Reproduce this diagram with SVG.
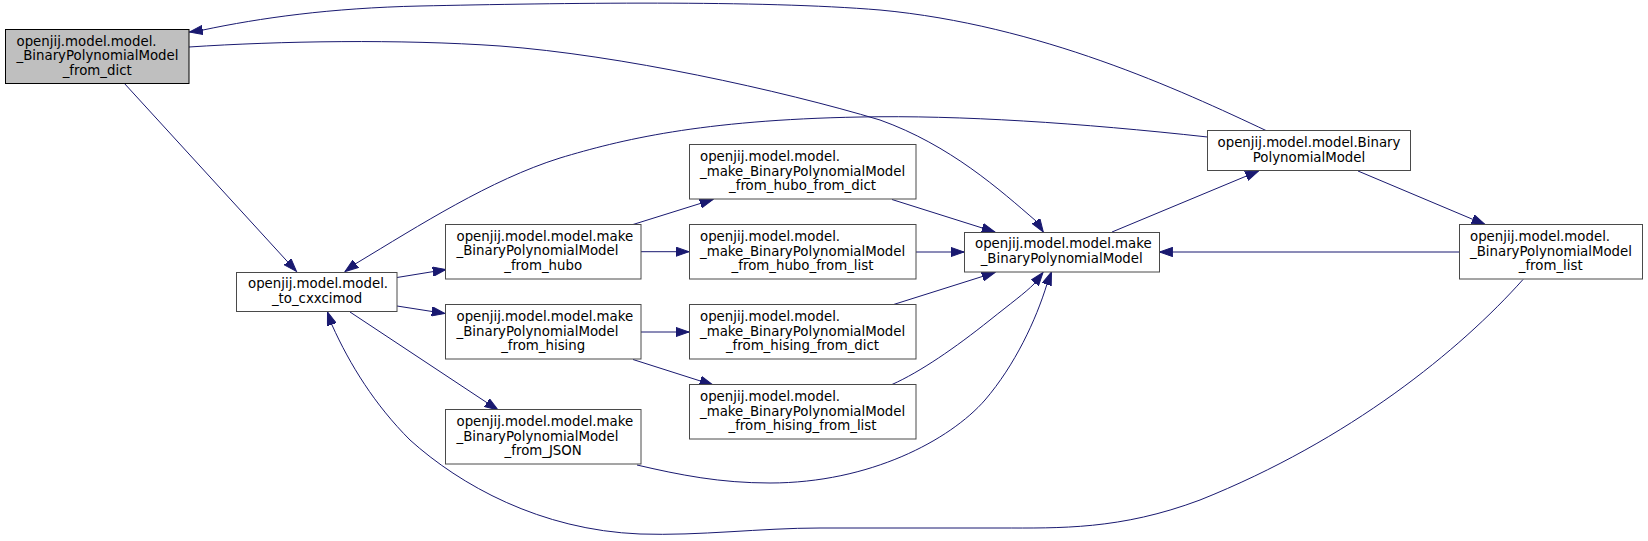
<svg xmlns="http://www.w3.org/2000/svg" width="1648" height="541" viewBox="0 0 1648 541">
<style>
.n rect{fill:#ffffff;stroke:#4a4a4a;stroke-width:1}
.n.root rect{fill:#bfbfbf;stroke:#000000}
.n text{font-family:"DejaVu Sans",sans-serif;font-size:13.33px;fill:#000000}
.s{text-anchor:start}
.m{text-anchor:middle}
.e path{fill:none;stroke:#191970;stroke-width:1;marker-end:url(#ah)}
</style>
<defs>
<marker id="ah" markerUnits="userSpaceOnUse" viewBox="0 0 14 10" markerWidth="14" markerHeight="10" refX="13.3" refY="5" orient="auto">
<path d="M0,0.33 L13.3,5 L0,9.67 Z" fill="#191970" stroke="#191970" stroke-width="1"/>
</marker>
</defs>
<rect width="1648" height="541" fill="#ffffff"/>
<g id="edges" class="e">
<path d="M1267,131 C1180,90 1040,25 880,10 C760,0 560,3 420,6 C330,8 260,18 203,30 L189.5,32"/>
<path d="M189,47 C280,41 400,39 500,46 C620,55 780,90 880,120 C950,145 1000,190 1036,221 L1043.3,232"/>
<path d="M124,83 L296.5,271.5"/>
<path d="M1207.5,137 C1080,123 960,115 860,117 C700,120 620,140 560,158 C490,180 420,225 356,263.5 L345,271.5"/>
<path d="M397,277.5 L446,269.5"/>
<path d="M397,306 L445,313.5"/>
<path d="M350,312 L498,410"/>
<path d="M633,224.5 L713,199.5"/>
<path d="M641,251.7 L689,251.7"/>
<path d="M641,332 L689,332"/>
<path d="M633,359.5 L713,385"/>
<path d="M892,199.5 L995,232"/>
<path d="M916,252 L964,252"/>
<path d="M892,305 L995,272.5"/>
<path d="M892,384.5 C920,372 955,348 990,320 C1010,304 1025,293 1034,284 L1043,272.5"/>
<path d="M637,465 C680,475 720,483 770,483 C870,483 950,440 985,400 C1015,365 1036,320 1047,284 L1051.5,272"/>
<path d="M1112,232 L1258.5,171"/>
<path d="M1358,171 L1485,224.5"/>
<path d="M1459,252 L1159.5,252"/>
<path d="M1523,279.5 C1460,350 1350,440 1200,500 C1120,530 1060,528 1000,528 L820,528 C760,528 700,536 640,534 C540,530 460,485 410,440 C375,405 350,365 332,325 L327.5,312"/>
</g>
<g id="node_from_dict" class="n root">
<rect x="5.5" y="29.5" width="183.5" height="54"/>
<text class="s" x="16.5" y="45.5">openjij.model.model.</text>
<text class="s" x="16.5" y="60.2">_BinaryPolynomialModel</text>
<text class="m" x="97.2" y="74.8">_from_dict</text>
</g>
<g id="node_to_cxxcimod" class="n">
<rect x="236.5" y="272.5" width="160.5" height="39"/>
<text class="s" x="248" y="287.8">openjij.model.model.</text>
<text class="m" x="317" y="302.5">_to_cxxcimod</text>
</g>
<g id="node_make_from_hubo" class="n">
<rect x="445.5" y="224.5" width="195.5" height="54.5"/>
<text class="s" x="456.5" y="240.5">openjij.model.model.make</text>
<text class="s" x="456.5" y="255.2">_BinaryPolynomialModel</text>
<text class="m" x="543.2" y="269.8">_from_hubo</text>
</g>
<g id="node_make_from_hising" class="n">
<rect x="445.5" y="304.5" width="195.5" height="54.5"/>
<text class="s" x="456.5" y="321">openjij.model.model.make</text>
<text class="s" x="456.5" y="335.7">_BinaryPolynomialModel</text>
<text class="m" x="543.2" y="350.3">_from_hising</text>
</g>
<g id="node_make_from_JSON" class="n">
<rect x="445.5" y="409.5" width="195.5" height="54.5"/>
<text class="s" x="456.5" y="426">openjij.model.model.make</text>
<text class="s" x="456.5" y="440.7">_BinaryPolynomialModel</text>
<text class="m" x="543.2" y="455.3">_from_JSON</text>
</g>
<g id="node_hubo_from_dict" class="n">
<rect x="689.5" y="144.5" width="226.5" height="54.5"/>
<text class="s" x="700" y="161">openjij.model.model.</text>
<text class="s" x="700" y="175.7">_make_BinaryPolynomialModel</text>
<text class="m" x="802.5" y="190.3">_from_hubo_from_dict</text>
</g>
<g id="node_hubo_from_list" class="n">
<rect x="689.5" y="224.5" width="226.5" height="54.5"/>
<text class="s" x="700" y="241">openjij.model.model.</text>
<text class="s" x="700" y="255.7">_make_BinaryPolynomialModel</text>
<text class="m" x="802.5" y="270.3">_from_hubo_from_list</text>
</g>
<g id="node_hising_from_dict" class="n">
<rect x="689.5" y="304.5" width="226.5" height="54.5"/>
<text class="s" x="700" y="321">openjij.model.model.</text>
<text class="s" x="700" y="335.7">_make_BinaryPolynomialModel</text>
<text class="m" x="802.5" y="350.3">_from_hising_from_dict</text>
</g>
<g id="node_hising_from_list" class="n">
<rect x="689.5" y="384.5" width="226.5" height="54.5"/>
<text class="s" x="700" y="401">openjij.model.model.</text>
<text class="s" x="700" y="415.7">_make_BinaryPolynomialModel</text>
<text class="m" x="802.5" y="430.3">_from_hising_from_list</text>
</g>
<g id="node_make" class="n">
<rect x="964.5" y="232.5" width="195" height="39.5"/>
<text class="s" x="975" y="248.3">openjij.model.model.make</text>
<text class="m" x="1061.7" y="263">_BinaryPolynomialModel</text>
</g>
<g id="node_BinaryPolynomialModel" class="n">
<rect x="1207.5" y="130.5" width="203" height="40"/>
<text class="m" x="1309" y="146.8">openjij.model.model.Binary</text>
<text class="m" x="1309" y="161.5">PolynomialModel</text>
</g>
<g id="node_from_list" class="n">
<rect x="1459.5" y="224.5" width="183" height="54.5"/>
<text class="s" x="1470" y="241">openjij.model.model.</text>
<text class="s" x="1470" y="255.7">_BinaryPolynomialModel</text>
<text class="m" x="1550.7" y="270.3">_from_list</text>
</g>
</svg>
